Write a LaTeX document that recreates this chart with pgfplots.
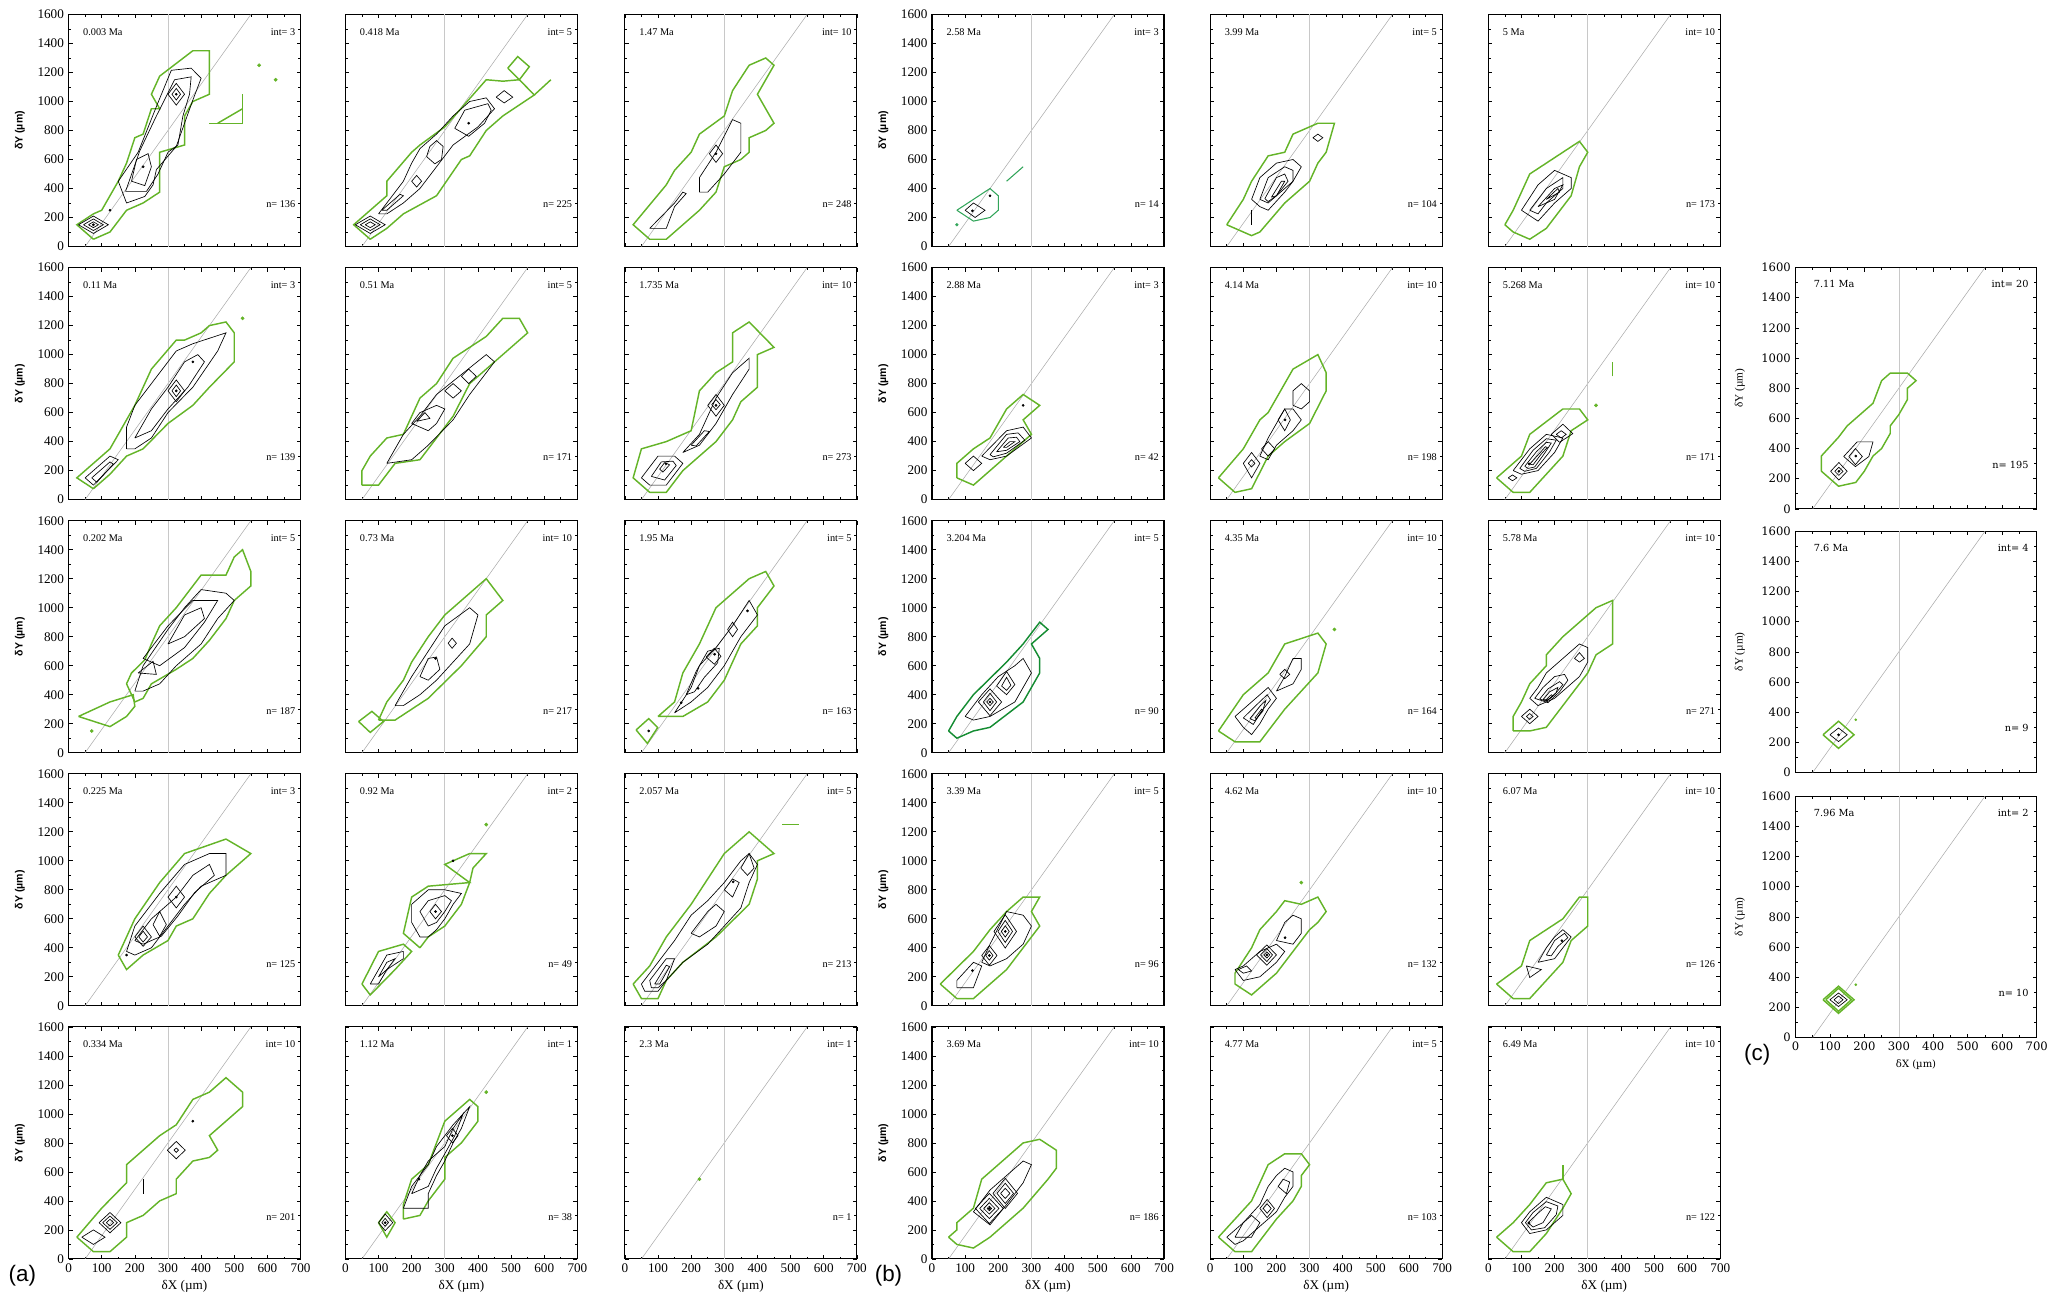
\documentclass[border=0pt]{standalone}
\usepackage{fontspec}
\setmainfont{Liberation Serif}
\newfontfamily\sansb{Liberation Sans}
\newfontfamily\dvs{DejaVu Serif}
\usepackage{pgfplots}
\pgfplotsset{compat=1.18}
\definecolor{cg}{RGB}{100,180,40}
\definecolor{cgd}{RGB}{20,140,50}
\definecolor{cgt}{RGB}{50,165,90}
\definecolor{lg}{RGB}{170,170,170}
\definecolor{lg2}{RGB}{200,200,200}
\newcommand{\pfont}{\fontsize{7.8}{8.5}\selectfont}
\newcommand{\cfont}{\dvs\fontsize{7.4}{8}\selectfont}
\pgfplotsset{
 panel/.style={scale only axis, width=176pt, height=176pt, xmin=0, xmax=700, ymin=0, ymax=1600,
  anchor=south west, xtick={0,100,...,700}, ytick={0,200,...,1600},
  minor x tick num=1, minor y tick num=1, tick align=inside, tick pos=both,
  major tick length=3pt, minor tick length=1.8pt, tick style={black, line width=0.5pt},
  axis line style={line width=0.8pt},
  ticklabel style={font=\fontsize{10}{11}\selectfont},
  /pgf/number format/assume math mode=true, /pgf/number format/1000 sep={},
  xticklabels={}, yticklabels={}},
 cpanel/.style={panel, width=183pt, height=183pt, ticklabel style={font=\dvs\fontsize{8.8}{9.5}\selectfont}},
 ylab/.style={yticklabels={0,200,400,600,800,1000,1200,1400,1600}, ylabel={\sansb\bfseries δY (µm)},
  ylabel style={at={(axis description cs:-0.21,0.5)}, anchor=center, font=\fontsize{8}{9}\selectfont}},
 xlab/.style={xticklabels={0,100,200,300,400,500,600,700}, xlabel={δX (µm)},
  xlabel style={at={(axis description cs:0.5,-0.12)}, anchor=center, font=\fontsize{10}{11}\selectfont}},
 cylab/.style={yticklabels={0,200,400,600,800,1000,1200,1400,1600}, ylabel={δY (µm)},
  ylabel style={at={(axis description cs:-0.23,0.5)}, anchor=center, font=\fontsize{8.5}{9}\selectfont}},
 cxlab/.style={xticklabels={0,100,200,300,400,500,600,700}, xlabel={δX (µm)},
  xlabel style={at={(axis description cs:0.5,-0.115)}, anchor=center, font=\dvs\fontsize{7.6}{8}\selectfont}},
 gr/.style={cg, line width=1.1pt},
 grd/.style={cgd, line width=1.1pt},
 grt/.style={cgt, line width=0.8pt},
 bk/.style={black, line width=0.5pt},
 gdot/.style={only marks, mark=*, mark size=1.2pt, cg},
 bdot/.style={only marks, mark=*, mark size=0.8pt, black},
}
\newcommand{\refl}{\addplot[lg, line width=0.4pt] coordinates {(50,0) (550,1600)};
 \addplot[lg2, line width=0.5pt] coordinates {(300,0) (300,1600)};}
\newcommand{\pl}[3]{\node[anchor=west,font=\pfont] at (axis cs:30,1480) {#1 Ma};
 \node[anchor=east,font=\pfont] at (axis cs:698,1480) {int= #2};
 \node[anchor=east,font=\pfont] at (axis cs:698,290) {n= #3};}
\newcommand{\cpl}[3]{\node[anchor=west,font=\cfont] at (axis cs:40,1490) {#1 Ma};
 \node[anchor=east,font=\cfont] at (axis cs:690,1490) {int= #2};
 \node[anchor=east,font=\cfont] at (axis cs:690,293) {n= #3};}
\begin{document}
\begin{tikzpicture}
\useasboundingbox (0,0) rectangle (1568pt,991pt);
% ================= group (a) column 1 =================
\begin{axis}[panel, ylab, at={(52pt,804pt)}]
\refl
\addplot[gr] coordinates {(75,50) (25,150) (75,225) (100,250) (125,350) (150,450) (175,575) (200,750) (225,775) (250,950) (275,950) (250,1050) (275,1175) (375,1350) (425,1350) (425,1050) (375,1000) (350,900) (350,700) (275,650) (275,375) (225,300) (175,250) (125,100) (75,50)};
\addplot[gr] coordinates {(425,850) (525,850) (525,1050)};
\addplot[gr] coordinates {(450,850) (525,950)};
\addplot[gdot] coordinates {(575,1250) (625,1150)};
\addplot[bk] coordinates {(175,300) (150,450) (210,650) (245,850) (265,965) (310,1215) (370,1230) (400,1160) (375,1010) (325,690) (265,530) (255,425) (230,345) (175,300)};
\addplot[bk] coordinates {(172,380) (215,660) (265,900) (320,1150) (370,1170) (365,1050) (345,900) (330,700) (300,650) (270,500) (235,380) (172,380)};
\addplot[bk] coordinates {(190,450) (205,600) (240,640) (250,550) (230,420) (190,450)};
\addplot[bk] coordinates {(300,1050) (325,1125) (350,1050) (325,975) (300,1050)};
\addplot[bk] coordinates {(312,1050) (325,1090) (338,1050) (325,1010) (312,1050)};
\addplot[bk] coordinates {(30,150) (75,210) (120,150) (75,90) (30,150)};
\addplot[bk] coordinates {(45,150) (75,190) (105,150) (75,110) (45,150)};
\addplot[bk] coordinates {(60,150) (75,170) (90,150) (75,130) (60,150)};
\addplot[bdot] coordinates {(75,150) (125,250) (225,550) (325,1050)};
\pl{0.003}{3}{136}
\end{axis}
\begin{axis}[panel, ylab, at={(52pt,612pt)}]
\refl
\addplot[gr] coordinates {(75,75) (25,150) (75,250) (125,350) (150,450) (200,650) (225,775) (250,900) (325,1100) (350,1100) (400,1150) (425,1200) (475,1225) (500,1150) (500,950) (425,775) (375,650) (300,525) (225,350) (175,300) (125,175) (75,75)};
\addplot[gdot] coordinates {(525,1250)};
\addplot[bk] coordinates {(175,350) (175,500) (200,650) (275,875) (325,1025) (375,1075) (475,1150) (450,1025) (375,775) (300,600) (250,425) (200,350) (175,350)};
\addplot[bk] coordinates {(200,425) (250,625) (300,775) (350,950) (390,1000) (410,950) (360,775) (300,625) (250,475) (200,425)};
\addplot[bk] coordinates {(300,750) (325,825) (350,750) (325,675) (300,750)};
\addplot[bk] coordinates {(312,750) (325,790) (338,750) (325,710) (312,750)};
\addplot[bk] coordinates {(50,150) (125,300) (150,275) (75,100) (50,150)};
\addplot[bk] coordinates {(70,150) (125,260) (135,245) (85,120) (70,150)};
\addplot[bdot] coordinates {(375,950) (325,750)};
\pl{0.11}{3}{139}
\end{axis}
\begin{axis}[panel, ylab, at={(52pt,420pt)}]
\refl
\addplot[gr] coordinates {(30,250) (125,350) (195,400) (200,320) (175,250) (125,180) (30,250)};
\addplot[gdot] coordinates {(70,150)};
\addplot[gr] coordinates {(200,350) (175,475) (190,550) (230,640) (250,750) (275,875) (325,1000) (375,1150) (400,1225) (475,1225) (500,1350) (525,1400) (550,1250) (550,1150) (500,1050) (475,925) (425,775) (375,650) (325,575) (250,475) (225,375) (200,350)};
\addplot[bk] coordinates {(200,425) (225,600) (300,850) (350,1000) (400,1125) (475,1100) (500,1050) (450,925) (400,750) (325,600) (275,475) (225,425) (200,425)};
\addplot[bk] coordinates {(225,650) (300,875) (375,1050) (450,1050) (410,900) (350,725) (275,600) (225,650)};
\addplot[bk] coordinates {(300,750) (350,950) (400,1000) (410,925) (350,800) (300,750)};
\addplot[bk] coordinates {(210,550) (255,630) (265,540) (210,550)};
\pl{0.202}{5}{187}
\end{axis}
\begin{axis}[panel, ylab, at={(52pt,228pt)}]
\refl
\addplot[gr] coordinates {(150,350) (200,600) (275,850) (350,1050) (475,1150) (550,1050) (475,900) (425,775) (375,600) (325,550) (300,450) (225,350) (175,250) (150,350)};
\addplot[bk] coordinates {(175,375) (200,550) (275,775) (350,975) (425,1050) (475,1050) (475,900) (400,825) (350,700) (300,550) (250,400) (200,350) (175,375)};
\addplot[bk] coordinates {(200,450) (250,600) (325,750) (375,900) (425,975) (440,900) (380,780) (330,620) (280,480) (225,425) (200,450)};
\addplot[bk] coordinates {(200,475) (225,550) (250,475) (225,410) (200,475)};
\addplot[bk] coordinates {(212,475) (225,515) (238,475) (225,440) (212,475)};
\addplot[bk] coordinates {(255,560) (275,650) (295,560) (275,480) (255,560)};
\addplot[bk] coordinates {(300,750) (325,825) (350,750) (325,675) (300,750)};
\addplot[bdot] coordinates {(175,350) (325,750)};
\pl{0.225}{3}{125}
\end{axis}
\begin{axis}[panel, ylab, xlab, at={(52pt,36pt)}]
\refl
\addplot[gr] coordinates {(25,150) (75,50) (125,50) (175,150) (175,250) (225,300) (275,400) (325,450) (325,550) (375,675) (425,700) (450,750) (425,850) (525,1050) (525,1150) (475,1250) (425,1150) (375,1100) (325,925) (275,850) (175,650) (175,525) (100,350) (25,150)};
\addplot[bk] coordinates {(40,150) (75,200) (110,150) (75,100) (40,150)};
\addplot[bk] coordinates {(92,250) (125,320) (158,250) (125,180) (92,250)};
\addplot[bk] coordinates {(103,250) (125,296) (147,250) (125,204) (103,250)};
\addplot[bk] coordinates {(114,250) (125,273) (136,250) (125,227) (114,250)};
\addplot[bk] coordinates {(298,750) (325,810) (352,750) (325,690) (298,750)};
\addplot[bk] coordinates {(318,750) (325,765) (332,750) (325,735) (318,750)};
\addplot[bk] coordinates {(225,450) (225,550)};
\addplot[bdot] coordinates {(375,950)};
\pl{0.334}{10}{201}
\end{axis}
% ================= group (a) column 2 =================
\begin{axis}[panel, at={(262pt,804pt)}]
\refl
\addplot[gr] coordinates {(75,50) (25,150) (75,250) (125,350) (125,450) (200,650) (225,700) (300,825) (425,1150) (475,1140) (525,1150) (570,1045) (475,900) (425,800) (375,625) (350,600) (275,350) (175,225) (125,125) (75,50)};
\addplot[gr] coordinates {(570,1045) (620,1150)};
\addplot[gr] coordinates {(490,1230) (520,1310) (555,1240) (525,1150) (490,1230)};
\addplot[bk] coordinates {(100,225) (125,300) (175,450) (200,575) (225,675) (275,775) (325,900) (375,1000) (425,1025) (450,950) (400,825) (325,700) (300,625) (250,475) (225,400) (175,300) (125,225) (100,225)};
\addplot[bk] coordinates {(110,250) (165,360) (175,350) (125,250) (110,250)};
\addplot[bk] coordinates {(330,815) (360,940) (430,985) (440,940) (420,850) (372,760) (330,815)};
\addplot[bk] coordinates {(245,620) (255,690) (275,730) (295,690) (290,600) (270,570) (245,620)};
\addplot[bk] coordinates {(200,450) (215,490) (230,450) (215,410) (200,450)};
\addplot[bk] coordinates {(455,1030) (479,1075) (505,1030) (479,990) (455,1030)};
\addplot[bk] coordinates {(30,150) (75,210) (120,150) (75,90) (30,150)};
\addplot[bk] coordinates {(45,150) (75,190) (105,150) (75,110) (45,150)};
\addplot[bk] coordinates {(60,150) (75,170) (90,150) (75,130) (60,150)};
\addplot[bdot] coordinates {(372,850)};
\pl{0.418}{5}{225}
\end{axis}
\begin{axis}[panel, at={(262pt,612pt)}]
\refl
\addplot[gr] coordinates {(50,100) (100,100) (150,250) (225,275) (325,575) (375,800) (425,900) (550,1150) (525,1250) (475,1250) (425,1125) (325,975) (275,800) (225,700) (175,450) (125,425) (75,300) (50,200) (50,100)};
\addplot[bk] coordinates {(125,250) (175,450) (225,575) (275,725) (425,1000) (450,950) (375,725) (325,550) (250,375) (200,275) (125,250)};
\addplot[bk] coordinates {(200,525) (225,600) (275,650) (300,625) (275,525) (250,475) (200,525)};
\addplot[bk] coordinates {(215,540) (240,600) (255,560) (215,540)};
\addplot[bk] coordinates {(300,750) (325,800) (350,750) (325,700) (300,750)};
\addplot[bk] coordinates {(350,850) (372,900) (395,850) (372,800) (350,850)};
\pl{0.51}{5}{171}
\end{axis}
\begin{axis}[panel, at={(262pt,420pt)}]
\refl
\addplot[gr] coordinates {(40,215) (80,285) (115,215) (75,140) (40,215)};
\addplot[gr] coordinates {(100,225) (125,350) (175,500) (200,625) (250,800) (300,950) (375,1100) (425,1200) (475,1050) (425,950) (425,800) (350,600) (250,375) (200,300) (150,225) (100,225)};
\addplot[bk] coordinates {(150,325) (200,525) (250,700) (300,875) (375,1000) (400,950) (375,750) (325,625) (275,500) (225,400) (175,325) (150,325)};
\addplot[bk] coordinates {(225,525) (250,650) (275,660) (285,575) (250,500) (225,525)};
\addplot[bk] coordinates {(310,755) (322,790) (335,755) (322,720) (310,755)};
\addplot[bdot] coordinates {(272,650)};
\pl{0.73}{10}{217}
\end{axis}
\begin{axis}[panel, at={(262pt,228pt)}]
\refl
\addplot[gr] coordinates {(50,150) (100,375) (175,425) (200,375) (150,250) (75,75) (50,150)};
\addplot[gr] coordinates {(225,400) (175,500) (200,750) (250,825) (375,850) (300,975) (375,1050) (425,1050) (385,950) (375,850) (350,700) (300,550) (250,475) (225,400)};
\addplot[gdot] coordinates {(425,1250)};
\addplot[bk] coordinates {(75,150) (125,350) (175,375) (175,325) (125,250) (100,150) (75,150)};
\addplot[bk] coordinates {(100,200) (125,300) (150,325) (125,250) (100,200)};
\addplot[bk] coordinates {(225,475) (200,575) (200,700) (250,800) (300,800) (350,775) (325,700) (300,600) (275,525) (250,475) (225,475)};
\addplot[bk] coordinates {(250,550) (225,650) (250,725) (300,760) (320,725) (300,650) (275,575) (250,550)};
\addplot[bk] coordinates {(255,650) (272,700) (290,650) (272,600) (255,650)};
\addplot[bdot] coordinates {(272,650) (325,1000)};
\pl{0.92}{2}{49}
\end{axis}
\begin{axis}[panel, xlab, at={(262pt,36pt)}]
\refl
\addplot[gr] coordinates {(100,250) (125,325) (150,250) (125,150) (100,250)};
\addplot[gr] coordinates {(175,275) (175,375) (200,550) (250,650) (275,800) (300,950) (375,1100) (400,1050) (400,950) (350,800) (300,700) (300,550) (250,400) (225,300) (175,275)};
\addplot[gdot] coordinates {(425,1150)};
\addplot[bk] coordinates {(175,350) (200,500) (250,650) (275,775) (325,925) (375,1050) (350,900) (325,800) (300,675) (275,575) (250,450) (250,350) (175,350)};
\addplot[bk] coordinates {(200,450) (225,575) (250,675) (300,775) (325,900) (355,1000) (330,850) (300,725) (275,625) (250,500) (200,450)};
\addplot[bk] coordinates {(305,850) (323,900) (340,850) (323,800) (305,850)};
\addplot[bk] coordinates {(100,250) (120,310) (143,250) (120,195) (100,250)};
\addplot[bk] coordinates {(110,250) (120,280) (130,250) (120,225) (110,250)};
\addplot[bdot] coordinates {(222,550) (323,850) (120,250)};
\pl{1.12}{1}{38}
\end{axis}
% ================= group (a) column 3 =================
\begin{axis}[panel, at={(474pt,804pt)}]
\refl
\addplot[gr] coordinates {(75,50) (125,50) (225,250) (275,375) (300,550) (350,600) (375,650) (375,750) (425,800) (450,850) (400,1050) (450,1250) (425,1300) (375,1250) (325,1075) (300,900) (225,775) (200,650) (150,525) (125,425) (25,150) (75,50)};
\addplot[bk] coordinates {(75,125) (150,300) (175,375) (185,365) (150,275) (125,125) (75,125)};
\addplot[bk] coordinates {(225,375) (225,475) (275,650) (325,875) (350,850) (350,650) (300,500) (250,375) (225,375)};
\addplot[bk] coordinates {(255,640) (275,700) (295,640) (275,580) (255,640)};
\addplot[bdot] coordinates {(275,640)};
\pl{1.47}{10}{248}
\end{axis}
\begin{axis}[panel, at={(474pt,612pt)}]
\refl
\addplot[gr] coordinates {(75,50) (125,50) (175,200) (275,400) (325,550) (350,675) (400,775) (400,1000) (450,1050) (375,1225) (325,1150) (325,950) (275,875) (225,750) (200,475) (125,400) (50,350) (25,150) (75,50)};
\addplot[bk] coordinates {(50,150) (100,300) (150,300) (175,250) (125,100) (75,100) (50,150)};
\addplot[bk] coordinates {(80,160) (110,260) (145,265) (155,235) (120,135) (80,160)};
\addplot[bk] coordinates {(105,210) (120,255) (135,240) (115,190) (105,210)};
\addplot[bk] coordinates {(175,325) (225,450) (275,700) (325,875) (375,975) (375,900) (325,725) (275,525) (225,375) (175,325)};
\addplot[bk] coordinates {(200,375) (240,475) (255,470) (215,370) (200,375)};
\addplot[bk] coordinates {(250,650) (275,725) (300,650) (275,575) (250,650)};
\addplot[bk] coordinates {(262,655) (275,690) (288,655) (275,620) (262,655)};
\addplot[bdot] coordinates {(124,248) (275,650)};
\pl{1.735}{10}{273}
\end{axis}
\begin{axis}[panel, at={(474pt,420pt)}]
\refl
\addplot[gr] coordinates {(34,157) (72,235) (99,173) (68,64) (34,157)};
\addplot[gr] coordinates {(100,250) (150,350) (175,550) (225,750) (275,1000) (375,1200) (425,1250) (450,1150) (400,1000) (400,875) (350,750) (300,500) (250,350) (175,250) (100,250)};
\addplot[bk] coordinates {(150,275) (200,450) (225,600) (275,725) (325,875) (375,1050) (400,950) (350,800) (300,600) (250,450) (200,350) (150,275)};
\addplot[bk] coordinates {(185,400) (215,560) (250,700) (285,720) (280,620) (240,520) (210,420) (185,400)};
\addplot[bk] coordinates {(245,660) (270,720) (290,665) (270,610) (245,660)};
\addplot[bk] coordinates {(310,850) (325,900) (340,850) (325,800) (310,850)};
\addplot[bdot] coordinates {(72,150) (170,345) (221,444) (271,679) (370,978)};
\pl{1.95}{5}{163}
\end{axis}
\begin{axis}[panel, at={(474pt,228pt)}]
\refl
\addplot[gr] coordinates {(25,150) (75,275) (125,475) (200,700) (300,1050) (375,1200) (450,1050) (400,1000) (400,875) (375,700) (275,475) (175,300) (125,175) (100,50) (50,50) (25,150)};
\addplot[gr] coordinates {(475,1250) (525,1250)};
\addplot[bk] coordinates {(60,100) (50,150) (100,300) (150,450) (200,625) (250,725) (300,850) (350,1000) (375,1050) (400,975) (375,850) (350,675) (300,550) (250,425) (175,300) (125,175) (100,100) (60,100)};
\addplot[bk] coordinates {(80,125) (75,175) (125,325) (150,325) (125,175) (100,125) (80,125)};
\addplot[bk] coordinates {(90,150) (125,280) (135,270) (105,150) (90,150)};
\addplot[bk] coordinates {(200,500) (250,650) (275,700) (300,650) (275,550) (225,475) (200,500)};
\addplot[bk] coordinates {(300,800) (325,875) (345,850) (325,750) (300,800)};
\addplot[bk] coordinates {(350,950) (375,1050) (390,950) (370,900) (350,950)};
\addplot[bdot] coordinates {(327,855)};
\pl{2.057}{5}{213}
\end{axis}
\begin{axis}[panel, xlab, at={(474pt,36pt)}]
\refl
\addplot[gdot] coordinates {(225,550)};
\pl{2.3}{1}{1}
\end{axis}
% ================= group (b) column 1 =================
\begin{axis}[panel, ylab, at={(707pt,804pt)}]
\refl
\addplot[grt] coordinates {(75,250) (125,325) (175,400) (200,350) (200,250) (175,200) (125,175) (75,250)};
\addplot[grt] coordinates {(225,450) (275,550)};
\addplot[only marks, mark=*, mark size=1pt, cgt] coordinates {(75,150)};
\addplot[bk] coordinates {(100,250) (125,300) (160,250) (130,200) (100,250)};
\addplot[bdot] coordinates {(122,246) (175,350)};
\pl{2.58}{3}{14}
\end{axis}
\begin{axis}[panel, ylab, at={(707pt,612pt)}]
\refl
\addplot[gr] coordinates {(75,150) (75,250) (125,350) (175,425) (225,625) (275,725) (325,650) (275,550) (300,450) (225,300) (125,100) (75,150)};
\addplot[bk] coordinates {(100,250) (125,300) (150,250) (125,200) (100,250)};
\addplot[bk] coordinates {(150,300) (225,475) (275,500) (300,425) (225,300) (175,275) (150,300)};
\addplot[bk] coordinates {(175,310) (225,450) (260,460) (280,410) (225,320) (185,295) (175,310)};
\addplot[bk] coordinates {(195,330) (230,425) (255,430) (265,400) (225,340) (195,330)};
\addplot[bk] coordinates {(215,360) (235,400) (250,400) (225,360) (215,360)};
\addplot[bdot] coordinates {(275,650)};
\pl{2.88}{3}{42}
\end{axis}
\begin{axis}[panel, ylab, at={(707pt,420pt)}]
\refl
\addplot[grd] coordinates {(50,150) (75,250) (125,400) (225,625) (275,750) (325,900) (350,850) (300,750) (325,650) (325,550) (275,350) (175,175) (125,150) (75,100) (50,150)};
\addplot[bk] coordinates {(100,250) (150,400) (200,525) (250,600) (275,650) (300,550) (275,450) (250,350) (175,250) (125,225) (100,250)};
\addplot[bk] coordinates {(140,350) (175,440) (210,350) (175,255) (140,350)};
\addplot[bk] coordinates {(155,350) (175,410) (195,350) (175,290) (155,350)};
\addplot[bk] coordinates {(165,350) (175,375) (185,350) (175,325) (165,350)};
\addplot[bk] coordinates {(195,460) (225,560) (250,470) (225,400) (195,460)};
\addplot[bk] coordinates {(210,460) (225,520) (238,465) (225,430) (210,460)};
\addplot[bdot] coordinates {(175,350)};
\pl{3.204}{5}{90}
\end{axis}
\begin{axis}[panel, ylab, at={(707pt,228pt)}]
\refl
\addplot[gr] coordinates {(25,150) (125,375) (175,525) (225,650) (275,750) (325,750) (300,650) (325,550) (225,250) (125,50) (75,50) (25,150)};
\addplot[bk] coordinates {(75,125) (75,175) (125,300) (150,275) (125,125) (75,125)};
\addplot[bk] coordinates {(150,300) (175,425) (225,650) (275,625) (300,550) (275,425) (225,325) (175,275) (150,300)};
\addplot[bk] coordinates {(150,347) (173,415) (196,347) (173,280) (150,347)};
\addplot[bk] coordinates {(162,347) (173,380) (184,347) (173,315) (162,347)};
\addplot[bk] coordinates {(187,513) (221,628) (255,513) (221,398) (187,513)};
\addplot[bk] coordinates {(199,513) (221,589) (243,513) (221,437) (199,513)};
\addplot[bk] coordinates {(209,513) (221,552) (233,513) (221,474) (209,513)};
\addplot[bdot] coordinates {(122,243) (221,513) (173,347)};
\pl{3.39}{5}{96}
\end{axis}
\begin{axis}[panel, ylab, xlab, at={(707pt,36pt)}]
\refl
\addplot[gr] coordinates {(50,150) (75,200) (75,250) (125,350) (150,550) (275,800) (325,825) (375,750) (375,625) (350,550) (275,350) (175,150) (125,75) (75,100) (50,150)};
\addplot[bk] coordinates {(125,325) (175,475) (225,575) (275,675) (300,650) (275,525) (225,375) (175,235) (125,325)};
\addplot[bk] coordinates {(131,348) (173,452) (215,348) (173,244) (131,348)};
\addplot[bk] coordinates {(144,348) (173,418) (202,348) (173,278) (144,348)};
\addplot[bk] coordinates {(156,348) (173,387) (190,348) (173,309) (156,348)};
\addplot[bk] coordinates {(166,348) (173,364) (180,348) (173,332) (166,348)};
\addplot[bk] coordinates {(184,452) (221,556) (258,452) (221,348) (184,452)};
\addplot[bk] coordinates {(196,452) (221,522) (246,452) (221,382) (196,452)};
\addplot[bk] coordinates {(207,452) (221,487) (235,452) (221,417) (207,452)};
\addplot[bdot] coordinates {(173,348)};
\pl{3.69}{10}{186}
\end{axis}
% ================= group (b) column 2 =================
\begin{axis}[panel, at={(918pt,804pt)}]
\refl
\addplot[gr] coordinates {(50,150) (100,325) (125,450) (175,625) (225,650) (250,775) (325,850) (375,850) (350,650) (325,575) (300,450) (225,300) (150,100) (125,75) (50,150)};
\addplot[bk] coordinates {(125,325) (150,475) (200,575) (250,600) (275,550) (250,450) (225,375) (175,250) (150,275) (125,325)};
\addplot[bk] coordinates {(150,325) (175,475) (225,550) (250,525) (250,450) (200,350) (175,300) (150,325)};
\addplot[bk] coordinates {(165,330) (200,475) (225,500) (235,450) (200,350) (175,310) (165,330)};
\addplot[bk] coordinates {(185,340) (215,450) (225,450) (200,350) (185,340)};
\addplot[bk] coordinates {(310,750) (325,775) (340,750) (325,725) (310,750)};
\addplot[bk] coordinates {(125,150) (125,250)};
\pl{3.99}{5}{104}
\end{axis}
\begin{axis}[panel, at={(918pt,612pt)}]
\refl
\addplot[gr] coordinates {(25,150) (100,350) (150,550) (175,600) (250,900) (325,1000) (350,875) (350,750) (300,525) (225,400) (175,300) (125,75) (75,50) (25,150)};
\addplot[bk] coordinates {(100,250) (125,325) (150,250) (125,150) (100,250)};
\addplot[bk] coordinates {(115,250) (125,275) (135,250) (125,225) (115,250)};
\addplot[bk] coordinates {(150,300) (175,425) (225,625) (250,625) (275,550) (250,475) (200,375) (175,275) (150,300)};
\addplot[bk] coordinates {(155,350) (175,400) (195,350) (175,300) (155,350)};
\addplot[bk] coordinates {(205,550) (225,625) (242,550) (225,475) (205,550)};
\addplot[bk] coordinates {(250,650) (250,750) (275,800) (300,750) (300,675) (275,625) (250,650)};
\addplot[bdot] coordinates {(226,550)};
\pl{4.14}{10}{198}
\end{axis}
\begin{axis}[panel, at={(918pt,420pt)}]
\refl
\addplot[gr] coordinates {(25,150) (100,400) (175,550) (225,750) (325,825) (350,750) (325,550) (225,300) (150,75) (75,75) (25,150)};
\addplot[gdot] coordinates {(375,850)};
\addplot[bk] coordinates {(75,250) (125,350) (175,450) (200,375) (175,300) (150,200) (125,125) (100,175) (75,250)};
\addplot[bk] coordinates {(100,240) (140,330) (172,400) (182,365) (155,285) (130,195) (100,240)};
\addplot[bk] coordinates {(120,235) (150,320) (168,360) (160,300) (135,220) (120,235)};
\addplot[bk] coordinates {(135,240) (155,300) (160,290) (140,235) (135,240)};
\addplot[bk] coordinates {(200,425) (225,525) (250,650) (275,650) (275,575) (250,475) (200,425)};
\addplot[bk] coordinates {(210,540) (225,575) (240,540) (225,510) (210,540)};
\pl{4.35}{10}{164}
\end{axis}
\begin{axis}[panel, at={(918pt,228pt)}]
\refl
\addplot[gr] coordinates {(75,150) (125,75) (200,225) (275,450) (300,525) (325,575) (350,650) (325,750) (275,700) (225,725) (200,650) (150,525) (125,400) (75,225) (75,150)};
\addplot[gdot] coordinates {(275,850)};
\addplot[bk] coordinates {(75,250) (100,275) (150,375) (200,425) (225,375) (200,300) (150,200) (100,175) (75,250)};
\addplot[bk] coordinates {(140,351) (171,420) (200,351) (171,280) (140,351)};
\addplot[bk] coordinates {(152,351) (171,395) (188,351) (171,305) (152,351)};
\addplot[bk] coordinates {(162,351) (171,372) (180,351) (171,330) (162,351)};
\addplot[bk] coordinates {(85,250) (110,275) (125,240) (100,225) (85,250)};
\addplot[bk] coordinates {(200,450) (225,575) (250,625) (275,600) (275,500) (250,425) (200,450)};
\addplot[bdot] coordinates {(226,470) (171,351)};
\pl{4.62}{10}{132}
\end{axis}
\begin{axis}[panel, xlab, at={(918pt,36pt)}]
\refl
\addplot[gr] coordinates {(25,150) (125,400) (150,525) (175,650) (225,725) (275,725) (300,650) (275,575) (275,500) (250,400) (200,275) (150,125) (125,50) (75,50) (25,150)};
\addplot[bk] coordinates {(50,150) (100,250) (150,375) (175,500) (200,575) (225,625) (250,600) (250,500) (225,425) (200,325) (150,225) (100,125) (75,100) (50,150)};
\addplot[bk] coordinates {(75,150) (100,250) (125,300) (150,250) (125,150) (75,150)};
\addplot[bk] coordinates {(150,348) (172,410) (194,348) (172,285) (150,348)};
\addplot[bk] coordinates {(160,348) (172,380) (184,348) (172,315) (160,348)};
\addplot[bk] coordinates {(205,500) (220,550) (240,530) (230,450) (205,500)};
\pl{4.77}{5}{103}
\end{axis}
% ================= group (b) column 3 =================
\begin{axis}[panel, at={(1129pt,804pt)}]
\refl
\addplot[gr] coordinates {(50,150) (75,250) (125,500) (225,650) (275,725) (300,650) (275,550) (250,350) (175,125) (125,50) (75,100) (50,150)};
\addplot[bk] coordinates {(100,250) (150,425) (200,525) (250,475) (250,400) (200,300) (150,175) (100,250)};
\addplot[bk] coordinates {(125,250) (175,400) (225,475) (225,400) (175,300) (150,225) (125,250)};
\addplot[bk] coordinates {(150,275) (200,400) (225,425) (200,325) (150,275)};
\addplot[bk] coordinates {(175,325) (210,400) (215,375) (175,325)};
\pl{5}{10}{173}
\end{axis}
\begin{axis}[panel, at={(1129pt,612pt)}]
\refl
\addplot[gr] coordinates {(25,150) (100,300) (125,450) (225,625) (275,625) (300,550) (250,475) (225,300) (125,50) (75,50) (25,150)};
\addplot[gr] coordinates {(375,850) (375,950)};
\addplot[gdot] coordinates {(325,650)};
\addplot[bk] coordinates {(75,200) (125,350) (175,450) (225,425) (200,325) (150,200) (100,175) (75,200)};
\addplot[bk] coordinates {(95,215) (135,340) (175,420) (205,410) (185,330) (145,215) (110,195) (95,215)};
\addplot[bk] coordinates {(110,230) (145,330) (175,395) (190,390) (170,320) (140,225) (120,215) (110,230)};
\addplot[bk] coordinates {(125,245) (155,320) (172,365) (178,360) (160,315) (135,240) (125,245)};
\addplot[bk] coordinates {(190,450) (225,520) (255,455) (215,395) (190,450)};
\addplot[bk] coordinates {(205,450) (220,475) (235,450) (220,425) (205,450)};
\addplot[bk] coordinates {(60,150) (73,170) (86,150) (73,130) (60,150)};
\addplot[bdot] coordinates {(123,247)};
\pl{5.268}{10}{171}
\end{axis}
\begin{axis}[panel, at={(1129pt,420pt)}]
\refl
\addplot[gr] coordinates {(75,150) (75,250) (100,350) (125,475) (175,600) (175,675) (225,800) (275,900) (325,1000) (375,1050) (375,750) (325,675) (300,550) (250,400) (175,175) (125,150) (75,150)};
\addplot[bk] coordinates {(125,375) (150,450) (175,550) (225,650) (275,750) (300,725) (300,625) (275,525) (250,475) (200,375) (150,325) (125,375)};
\addplot[bk] coordinates {(140,375) (165,450) (200,525) (230,540) (240,500) (215,420) (180,345) (140,375)};
\addplot[bk] coordinates {(155,370) (180,440) (215,490) (225,470) (200,400) (175,355) (155,370)};
\addplot[bk] coordinates {(165,365) (185,420) (210,450) (205,415) (180,365) (165,365)};
\addplot[bk] coordinates {(172,360) (190,400) (195,390) (178,360) (172,360)};
\addplot[bk] coordinates {(260,650) (275,690) (290,650) (275,625) (260,650)};
\addplot[bk] coordinates {(100,250) (125,300) (150,250) (125,200) (100,250)};
\addplot[bk] coordinates {(115,250) (125,270) (135,250) (125,230) (115,250)};
\pl{5.78}{10}{271}
\end{axis}
\begin{axis}[panel, at={(1129pt,228pt)}]
\refl
\addplot[gr] coordinates {(25,150) (100,275) (125,450) (175,525) (225,600) (275,750) (300,750) (300,650) (300,550) (250,450) (225,300) (125,50) (75,50) (25,150)};
\addplot[bk] coordinates {(150,300) (175,400) (200,475) (225,525) (250,475) (225,400) (200,325) (150,300)};
\addplot[bk] coordinates {(175,350) (200,450) (230,500) (240,470) (210,410) (190,345) (175,350)};
\addplot[bk] coordinates {(115,275) (160,250) (125,195) (115,275)};
\addplot[bdot] coordinates {(222,449)};
\pl{6.07}{10}{126}
\end{axis}
\begin{axis}[panel, xlab, at={(1129pt,36pt)}]
\refl
\addplot[gr] coordinates {(25,150) (75,250) (125,375) (150,450) (175,525) (225,550) (250,450) (225,350) (175,175) (125,50) (75,50) (25,150)};
\addplot[gr] coordinates {(225,550) (225,650)};
\addplot[bk] coordinates {(100,250) (125,325) (175,425) (225,375) (225,300) (175,200) (125,175) (100,250)};
\addplot[bk] coordinates {(112,250) (135,320) (175,395) (210,365) (205,305) (170,215) (130,200) (112,250)};
\addplot[bk] coordinates {(120,250) (145,305) (172,360) (190,345) (165,250) (135,220) (120,250)};
\addplot[bdot] coordinates {(122,248)};
\pl{6.49}{10}{122}
\end{axis}
% ================= group (c) =================
\begin{axis}[cpanel, cylab, at={(1362pt,605pt)}]
\refl
\addplot[gr] coordinates {(75,250) (75,350) (125,475) (150,550) (225,700) (250,850) (275,900) (325,900) (350,850) (325,800) (325,725) (300,625) (275,550) (275,500) (250,400) (225,350) (200,250) (175,175) (125,150) (75,250)};
\addplot[bk] coordinates {(102,249) (126,307) (150,249) (126,191) (102,249)};
\addplot[bk] coordinates {(114,249) (126,276) (138,249) (126,222) (114,249)};
\addplot[bk] coordinates {(140,347) (179,444) (225,444) (213,347) (174,280) (140,347)};
\addplot[bk] coordinates {(155,347) (174,400) (194,347) (174,293) (155,347)};
\addplot[bdot] coordinates {(175,350) (126,249)};
\cpl{7.11}{20}{195}
\end{axis}
\begin{axis}[cpanel, cylab, at={(1362pt,405pt)}]
\refl
\addplot[gr] coordinates {(80,250) (125,340) (170,250) (125,160) (80,250)};
\addplot[bk] coordinates {(100,250) (125,295) (150,250) (125,205) (100,250)};
\addplot[bdot] coordinates {(125,250)};
\addplot[only marks, mark=*, mark size=0.8pt, cg] coordinates {(175,350)};
\cpl{7.6}{4}{9}
\end{axis}
\begin{axis}[cpanel, cylab, cxlab, at={(1362pt,204pt)}]
\refl
\addplot[gr] coordinates {(80,250) (125,340) (170,250) (125,160) (80,250)};
\addplot[gr] coordinates {(88,250) (125,326) (162,250) (125,174) (88,250)};
\addplot[bk] coordinates {(100,250) (125,295) (150,250) (125,205) (100,250)};
\addplot[bk] coordinates {(112,250) (125,275) (138,250) (125,225) (112,250)};
\addplot[only marks, mark=*, mark size=0.8pt, cg] coordinates {(175,350)};
\cpl{7.96}{2}{10}
\end{axis}
\node[font=\sansb\fontsize{17}{18}\selectfont] at (17pt,23pt) {(a)};
\node[font=\sansb\fontsize{17}{18}\selectfont] at (674pt,23pt) {(b)};
\node[font=\sansb\fontsize{17}{18}\selectfont] at (1333pt,191pt) {(c)};
\end{tikzpicture}
\end{document}
